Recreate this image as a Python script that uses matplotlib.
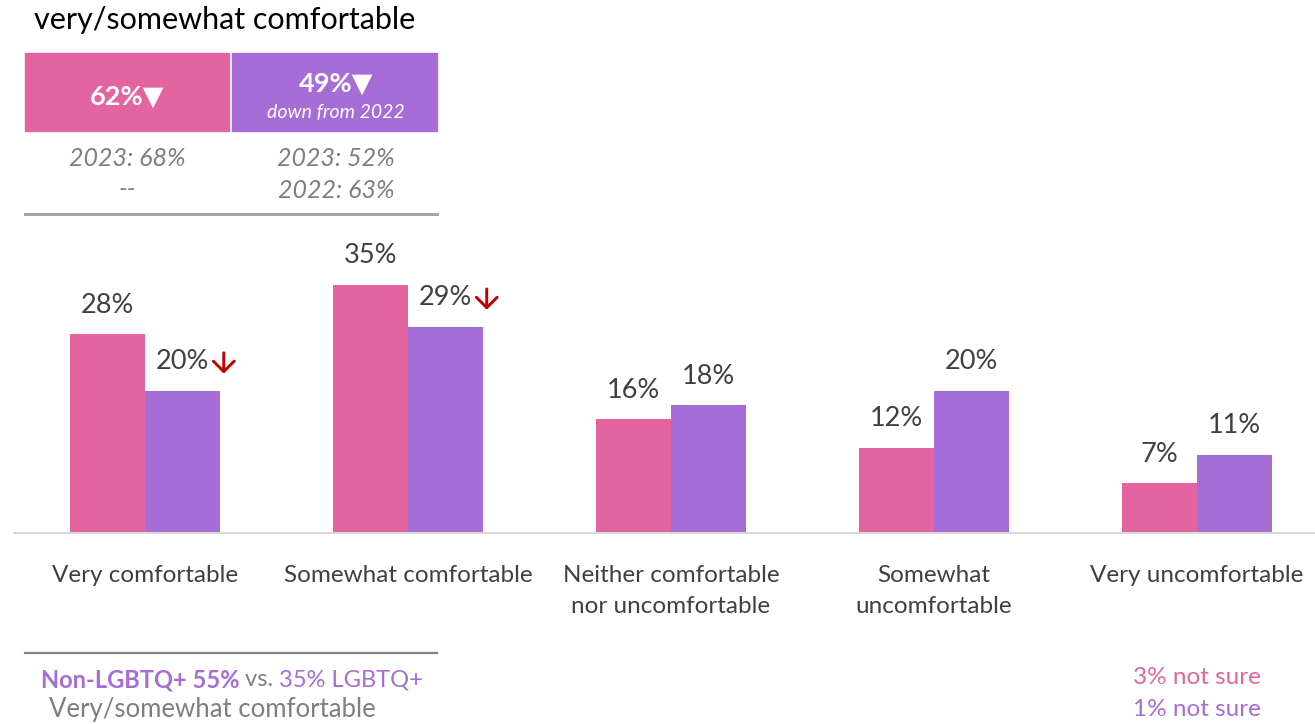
import matplotlib
matplotlib.use("Agg")
import matplotlib.pyplot as plt
from matplotlib.patches import Rectangle
from matplotlib.lines import Line2D
from matplotlib.text import OffsetFrom

plt.rcParams['font.family'] = ['Lato', 'DejaVu Sans']

# data
categories = ["Very comfortable", "Somewhat comfortable",
              "Neither comfortable\nnor uncomfortable",
              "Somewhat\nuncomfortable", "Very uncomfortable"]
lgbtq = [28, 35, 16, 12, 7]
non_lgbtq = [20, 29, 18, 20, 11]
non_lgbtq_down = [True, True, False, False, False]

summary_pink = "62%"
summary_purple = "49%"
trend_pink = ["2023: 68%", "--"]
trend_purple = ["2023: 52%", "2022: 63%"]
not_sure = ["3% not sure", "1% not sure"]

PINK = "#E264A1"
PURPLE = "#A66DD6"
DARK = "#404040"
GRAY = "#7F7F7F"
W, H = 1315, 724

fig = plt.figure(figsize=(W / 100, H / 100), dpi=100)


def fx(px):
    return px / W


def fy(py):
    return 1 - py / H


# bar chart area
ax = fig.add_axes([fx(13.5), fy(533), fx(W - 13.5), 284 / H])
bw = 0.285
xs = list(range(len(categories)))
ax.bar([x - bw / 2 for x in xs], lgbtq, width=bw, color=PINK)
ax.bar([x + bw / 2 for x in xs], non_lgbtq, width=bw, color=PURPLE)
ax.set_xlim(-0.5, (W - 145) / 263)
ax.set_ylim(0, 40)
for s in ["top", "right", "left"]:
    ax.spines[s].set_visible(False)
ax.spines["bottom"].set_color("#D9D9D9")
ax.spines["bottom"].set_linewidth(1.5)
ax.set_yticks([])
ax.set_xticks(xs)
ax.set_xticklabels(categories, fontsize=17.5, color=DARK, linespacing=1.6)
ax.tick_params(axis="x", length=0, pad=23)

for x, v in zip(xs, lgbtq):
    ax.annotate(f"{v}%", (x - bw / 2, v), xytext=(0, 21), textcoords="offset points",
                ha="center", va="center", fontsize=19.5, color=DARK)
for x, v, down in zip(xs, non_lgbtq, non_lgbtq_down):
    t = ax.annotate(f"{v}%", (x + bw / 2, v), xytext=(0, 21), textcoords="offset points",
                    ha="center", va="center", fontsize=19.5, color=DARK)
    if down:
        # red down arrow right after the value
        ax.annotate("", xy=(10.5, -8.5), xycoords=OffsetFrom(t, (1, 0.5), unit="points"),
                    xytext=(10.5, 6.5), textcoords=OffsetFrom(t, (1, 0.5), unit="points"),
                    arrowprops=dict(arrowstyle="->,head_length=0.5,head_width=0.5",
                                    color="#C00000", lw=2.1, shrinkA=0, shrinkB=0,
                                    mutation_scale=15))

# header
fig.text(fx(225), fy(20), "very/somewhat comfortable", ha="center", va="center",
         fontsize=22, color="black")
fig.patches.append(Rectangle((fx(25), fy(131)), fx(204), 78 / H, color=PINK,
                             transform=fig.transFigure))
fig.patches.append(Rectangle((fx(232), fy(131)), fx(205), 78 / H, color=PURPLE,
                             transform=fig.transFigure))
fig.text(fx(127), fy(97), summary_pink + "▼", ha="center", va="center",
         fontsize=19.5, fontweight="bold", color="white")
fig.text(fx(336), fy(84), summary_purple + "▼", ha="center", va="center",
         fontsize=19.5, fontweight="bold", color="white")
fig.text(fx(336), fy(112), "down from 2022", ha="center", va="center",
         fontsize=14, style="italic", color="white")
for i, (a, b) in enumerate(zip(trend_pink, trend_purple)):
    y = 159 + 31 * i
    fig.text(fx(127), fy(y), a, ha="center", va="center", fontsize=18,
             style="italic", color=GRAY)
    fig.text(fx(336), fy(y), b, ha="center", va="center", fontsize=18,
             style="italic", color=GRAY)
fig.lines.append(Line2D([fx(25), fx(437)], [fy(214), fy(214)], color="#A6A6A6",
                        lw=2.2, transform=fig.transFigure))

# footer
fig.lines.append(Line2D([fx(25), fx(437)], [fy(653), fy(653)], color="#808080",
                        lw=1.6, transform=fig.transFigure))
t1 = fig.text(0, fy(680), "Non-LGBTQ+ 55%", ha="left", va="center",
              fontsize=17, fontweight="bold", color=PURPLE)
t2 = fig.text(0, fy(680), " vs. ", fontsize=17, color=GRAY, va="center")
t3 = fig.text(0, fy(680), "35% LGBTQ+", fontsize=17, color=PURPLE, va="center")
fig.canvas.draw()
r = fig.canvas.get_renderer()
w1 = t1.get_window_extent(r).width
w2 = t2.get_window_extent(r).width
w3 = t3.get_window_extent(r).width
x0 = 232 - (w1 + w2 + w3) / 2
t1.set_position((fx(x0), fy(680)))
t2.set_position((fx(x0 + w1), fy(680)))
t3.set_position((fx(x0 + w1 + w2), fy(680)))
fig.text(fx(212), fy(710), "Very/somewhat comfortable", ha="center", va="center",
         fontsize=18.5, color=GRAY)

fig.text(fx(1197), fy(677), not_sure[0], ha="center", va="center", fontsize=17.5, color=PINK)
fig.text(fx(1197), fy(709), not_sure[1], ha="center", va="center", fontsize=17.5, color=PURPLE)

fig.savefig("out.png", dpi=100)
